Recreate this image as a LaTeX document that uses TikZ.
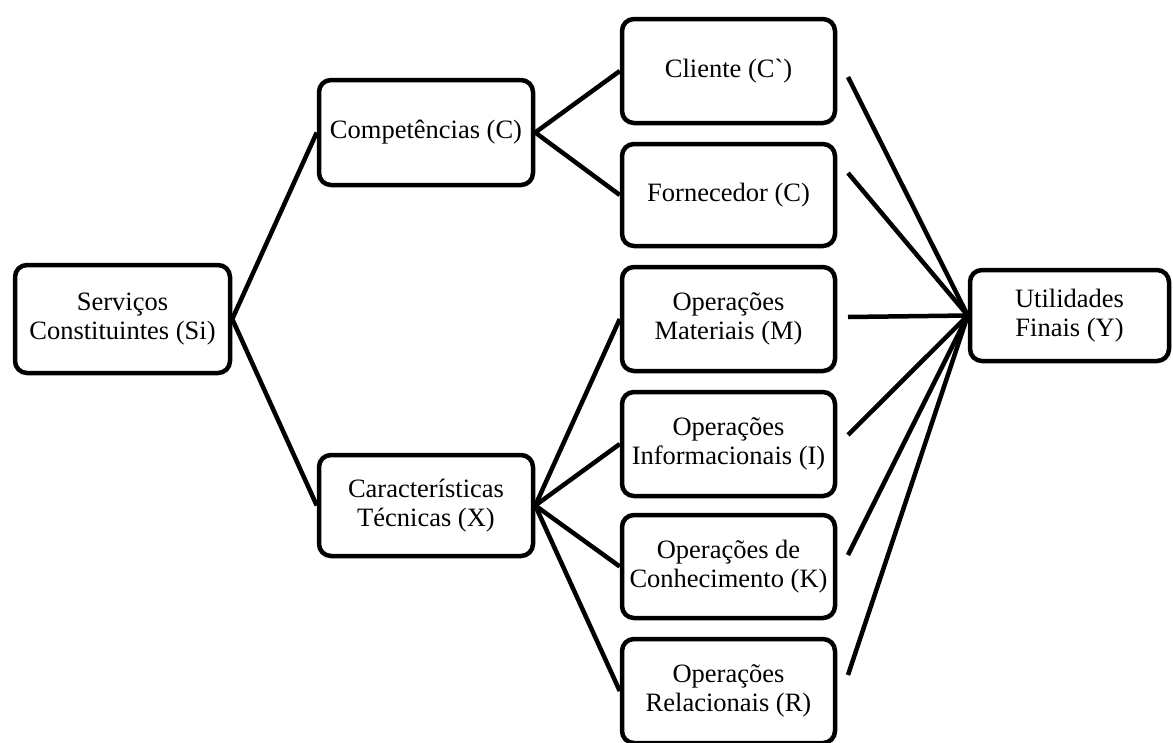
\documentclass[tikz,border=0pt]{standalone}
\usepackage{fontspec}
\newfontfamily\boxfont{Liberation Serif}
\begin{document}
\begin{tikzpicture}[x=1pt,y=-1pt,
  box/.style={draw, line width=4.5pt, rounded corners=12pt, align=center,
    inner sep=0pt, font=\boxfont\fontsize{26.5pt}{29pt}\selectfont},
  link/.style={line width=4.5pt}]
\clip (0,0) rectangle (1173,742);
\useasboundingbox (0,0) rectangle (1173,742);

% first level
\node[box, minimum width=215pt, minimum height=108pt] (si) at (122.5,319) {Serviços\\Constituintes (Si)};

% second level
\node[box, minimum width=214pt, minimum height=105pt] (comp) at (426,132.5) {Competências (C)};
\node[box, minimum width=214pt, minimum height=101pt] (car) at (426,505.5) {Características\\Técnicas (X)};

% third level
\node[box, minimum width=213pt, minimum height=104pt] (cli) at (728.5,71) {Cliente (C`)};
\node[box, minimum width=213pt, minimum height=102pt] (forn) at (728.5,195) {Fornecedor (C)};
\node[box, minimum width=213pt, minimum height=104pt] (opm) at (728.5,319) {Operações\\Materiais (M)};
\node[box, minimum width=213pt, minimum height=104pt] (opi) at (728.5,444) {Operações\\Informacionais (I)};
\node[box, minimum width=213pt, minimum height=103pt] (opk) at (728.5,566.5) {Operações de\\Conhecimento (K)};
\node[box, minimum width=213pt, minimum height=104pt] (opr) at (728.5,691) {Operações\\Relacionais (R)};

% final node
\node[box, minimum width=199pt, minimum height=91pt] (uti) at (1069.5,315.5) {Utilidades\\Finais (Y)};

% start points of the lines towards the final node
\coordinate (ecli) at (848,77);
\coordinate (eforn) at (848,173);
\coordinate (eopm) at (848,317);
\coordinate (eopi) at (848,435);
\coordinate (eopk) at (848,555);
\coordinate (eopr) at (848,675);

% tree connectors
\draw[link] (comp.west) -- (si.east) -- (car.west);
\draw[link] (cli.west) -- (comp.east) -- (forn.west);
\draw[link] (car.east) -- (opm.west);
\draw[link] (car.east) -- (opi.west);
\draw[link] (car.east) -- (opk.west);
\draw[link] (car.east) -- (opr.west);

% converging lines
\foreach \s in {ecli,eforn,eopm,eopi,eopk,eopr}
  \draw[link] (\s) -- (uti.west);
\end{tikzpicture}
\end{document}
